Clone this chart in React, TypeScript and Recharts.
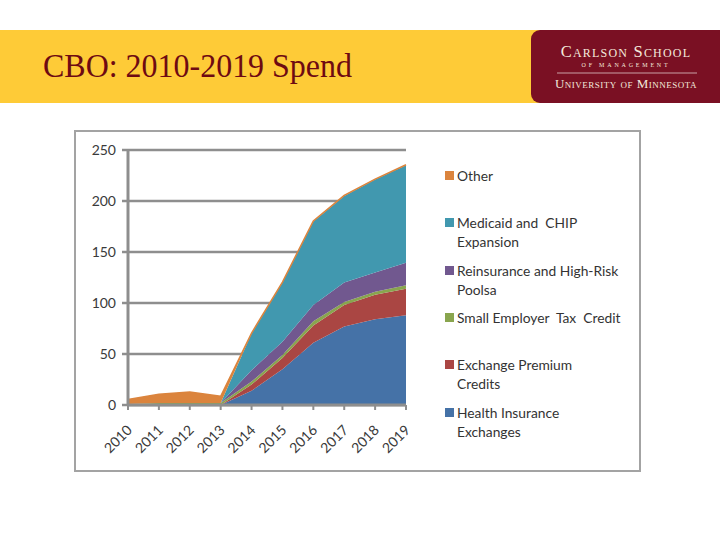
import React from 'react';
import { AreaChart, Area, XAxis, YAxis, CartesianGrid } from 'recharts';

const years = ['2010', '2011', '2012', '2013', '2014', '2015', '2016', '2017', '2018', '2019'];
const healthInsuranceExchanges = [0, 0, 0, 0, 14, 35, 61, 77, 84, 88];
const exchangePremiumCredits = [0, 0, 0, 0, 6, 11, 17, 21, 24, 26];
const smallEmployerTaxCredit = [1, 2, 2, 2, 3, 3, 4, 3, 3, 3.5];
const reinsuranceHighRisk = [0, 0, 0, 0, 11, 13, 16, 19, 19, 22];
const medicaidChip = [0, 0, 0, 0, 36, 58, 82, 85, 91, 95.5];
const other = [4.5, 8.5, 10.8, 6.5, 0.5, 0.5, 0.5, 0.5, 0.5, 0.5];
const yTicks = [0, 50, 100, 150, 200, 250];

// bottom to top stacking order
const series = [
  { key: 'hie', name: 'Health Insurance Exchanges', values: healthInsuranceExchanges, color: '#4572A7' },
  { key: 'epc', name: 'Exchange Premium Credits', values: exchangePremiumCredits, color: '#AA4643' },
  { key: 'setc', name: 'Small Employer Tax Credit', values: smallEmployerTaxCredit, color: '#89A54E' },
  { key: 'rhr', name: 'Reinsurance and High-Risk Poolsa', values: reinsuranceHighRisk, color: '#71588F' },
  { key: 'mc', name: 'Medicaid and CHIP Expansion', values: medicaidChip, color: '#4198AF' },
  { key: 'other', name: 'Other', values: other, color: '#DB843D' },
];

const legendLines: Record<string, string[]> = {
  other: ['Other'],
  mc: ['Medicaid and  CHIP', 'Expansion'],
  rhr: ['Reinsurance and High-Risk', 'Poolsa'],
  setc: ['Small Employer  Tax  Credit'],
  epc: ['Exchange Premium', 'Credits'],
  hie: ['Health Insurance', 'Exchanges'],
};

const data = years.map((y, i) => {
  const row: Record<string, number | string> = { year: y };
  series.forEach((s) => {
    row[s.key] = s.values[i];
  });
  return row;
});

const FONT = 'Lato, "Open Sans", sans-serif';
const GRID = '#8e8e8e';

const XTick = (props: any) => {
  const { x, y, payload } = props;
  return (
    <g transform={`translate(${x + 5},${y + 19})`}>
      <text
        x={0}
        y={0}
        textAnchor="end"
        transform="rotate(-45)"
        fontFamily={FONT}
        fontSize={14}
        fill="#3a3a3a"
      >
        {payload.value}
      </text>
    </g>
  );
};

export default function App() {
  const legendOrder = [...series].reverse();
  return (
    <div style={{ position: 'absolute', left: 0, top: 0, width: 720, height: 540, background: '#fff', overflow: 'hidden' }}>
      <svg width={720} height={110} style={{ position: 'absolute', left: 0, top: 0 }}>
        <rect x={0} y={30} width={545} height={73} fill="#FECB37" />
        <rect x={531} y={30} width={210} height={73} rx={9} ry={9} fill="#7A1023" />
        <text
          x={43}
          y={77}
          fontFamily='"Liberation Serif", "DejaVu Serif", serif'
          fontSize={33}
          fill="#6E0A12"
          textLength={309}
          lengthAdjust="spacingAndGlyphs"
        >
          CBO: 2010-2019 Spend
        </text>
        <text
          x={626}
          y={56.5}
          textAnchor="middle"
          fontFamily='"Liberation Serif", serif'
          fontSize={16.5}
          letterSpacing={1.2}
          fill="#F4E9DC"
          style={{ fontVariant: 'small-caps' }}
        >
          Carlson School
        </text>
        <text x={626} y={66.5} textAnchor="middle" fontFamily='"Liberation Serif", serif' fontSize={6} letterSpacing={2.8} fill="#F4E9DC">
          OF MANAGEMENT
        </text>
        <line x1={557} y1={73} x2={697} y2={73} stroke="#C9A0A6" strokeWidth={1} />
        <text
          x={626}
          y={87.5}
          textAnchor="middle"
          fontFamily='"Liberation Serif", serif'
          fontSize={13}
          letterSpacing={0.5}
          fill="#F4E9DC"
          style={{ fontVariant: 'small-caps' }}
        >
          University of Minnesota
        </text>
      </svg>

      <div
        style={{
          position: 'absolute',
          left: 74,
          top: 130,
          width: 567,
          height: 342,
          border: '2px solid #a3a3a3',
          boxSizing: 'border-box',
        }}
      />

      <div style={{ position: 'absolute', left: 0, top: 0 }}>
        <AreaChart width={720} height={540} data={data} margin={{ top: 150, right: 314, bottom: 95, left: 78 }}>
          <CartesianGrid vertical={false} stroke={GRID} strokeWidth={2.5} />
          <XAxis
            dataKey="year"
            height={40}
            tick={<XTick />}
            tickSize={5}
            tickMargin={2}
            axisLine={{ stroke: GRID, strokeWidth: 3 }}
            tickLine={{ stroke: GRID, strokeWidth: 2 }}
            interval={0}
          />
          <YAxis
            width={50}
            domain={[0, 250]}
            ticks={yTicks}
            tickSize={6}
            tickMargin={6}
            axisLine={{ stroke: GRID, strokeWidth: 3 }}
            tickLine={{ stroke: GRID, strokeWidth: 2.5 }}
            tick={{ fontFamily: FONT, fontSize: 14, fill: '#3a3a3a' }}
          />
          {series.map((s) => (
            <Area
              key={s.key}
              type="linear"
              dataKey={s.key}
              name={s.name}
              stackId="1"
              fill={s.color}
              fillOpacity={1}
              stroke={s.key === 'other' ? s.color : 'none'}
              strokeWidth={s.key === 'other' ? 1.5 : 0}
              isAnimationActive={false}
              dot={false}
              activeDot={false}
            />
          ))}
        </AreaChart>
      </div>

      {legendOrder.map((s, i) => (
        <div
          key={s.key}
          style={{
            position: 'absolute',
            left: 445,
            top: 166 + i * 47.3,
            fontFamily: FONT,
            fontSize: 13.8,
            lineHeight: '19px',
            color: '#333',
            whiteSpace: 'pre',
          }}
        >
          <span
            style={{
              position: 'absolute',
              left: 0,
              top: 5,
              width: 9,
              height: 9,
              background: s.color,
            }}
          />
          <div style={{ marginLeft: 12 }}>
            {legendLines[s.key].map((l, j) => (
              <div key={j}>{l}</div>
            ))}
          </div>
        </div>
      ))}
    </div>
  );
}
